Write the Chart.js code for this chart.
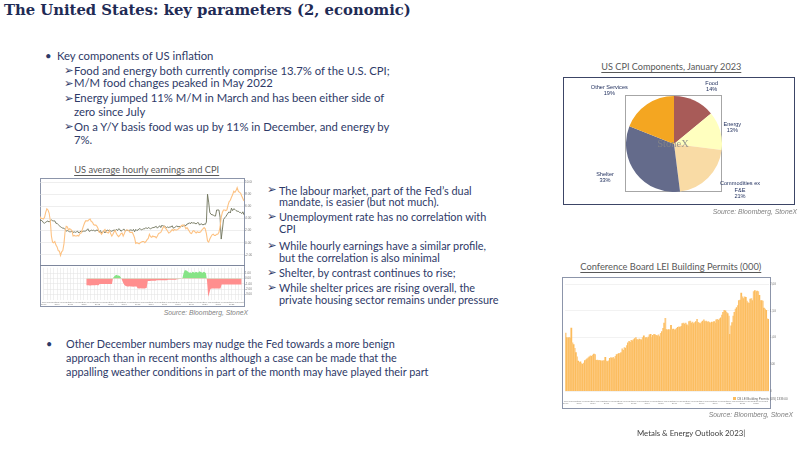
<!DOCTYPE html>
<html><head><meta charset="utf-8">
<script src="https://cdn.jsdelivr.net/npm/chart.js@4.4.1/dist/chart.umd.min.js"></script>
<style>
html,body{margin:0;padding:0;background:#fff;}
#slide{position:relative;width:800px;height:450px;overflow:hidden;font-family:Lato,"Liberation Sans",sans-serif;color:#2e3a68;}
.t{position:absolute;white-space:nowrap;line-height:14px;}
.b1{font-size:11.3px;}
.b2{font-size:10.9px;line-height:11px;}
.b3{font-size:10.85px;}
.arr{position:absolute;font-family:"DejaVu Sans",sans-serif;font-size:11.5px;line-height:14px;}
.ct{position:absolute;white-space:nowrap;color:#595959;text-decoration:underline;text-decoration-thickness:0.6px;text-underline-offset:1.5px;transform:translateX(-50%);line-height:12px;}
.src{position:absolute;white-space:nowrap;font-family:"Liberation Sans",Arial,sans-serif;font-style:italic;font-size:6.8px;color:#7f7f7f;line-height:10px;}
.box{position:absolute;box-sizing:border-box;}
canvas{position:absolute;}
.pl{position:absolute;font-family:"Liberation Sans",Arial,sans-serif;font-size:5.6px;line-height:6.7px;color:#22315f;text-align:center;white-space:pre-line;transform:translate(-50%,-50%);}
</style></head>
<body>
<div id="slide">
  <div class="t" style="left:4px;top:2px;font-family:'DejaVu Serif',serif;font-weight:bold;font-size:14.8px;line-height:16px;color:#1f2b55;">The United States: key parameters (2, economic)</div>

  <!-- block 1 -->
  <div class="t b1" style="left:45px;top:49px;">•</div>
  <div class="t b1" style="left:57px;top:49px;">Key components of US inflation</div>
  <div class="arr" style="left:64px;top:63px;">➢</div>
  <div class="t b1" style="left:74px;top:63.7px;">Food and energy both currently comprise 13.7% of the U.S. CPI;</div>
  <div class="arr" style="left:64px;top:75.6px;">➢</div>
  <div class="t b1" style="left:74px;top:76.3px;">M/M food changes peaked  in May 2022</div>
  <div class="arr" style="left:64px;top:90.6px;">➢</div>
  <div class="t b1" style="left:74px;top:91.3px;">Energy jumped 11% M/M in March and has been either side of</div>
  <div class="t b1" style="left:74px;top:104.7px;">zero since July</div>
  <div class="arr" style="left:64px;top:119px;">➢</div>
  <div class="t b1" style="left:74px;top:119.7px;">On a Y/Y basis food was up by  11% in December, and energy by</div>
  <div class="t b1" style="left:74px;top:133px;">7%.</div>

  <!-- block 2 -->
  <div class="arr" style="left:267px;top:182.3px;">➢</div>
  <div class="t b2" style="left:279px;top:184.5px;">The labour market,  part of the Fed’s dual</div>
  <div class="t b2" style="left:279px;top:196.2px;">mandate, is easier (but not much).</div>
  <div class="arr" style="left:267px;top:209.1px;">➢</div>
  <div class="t b2" style="left:279px;top:211.3px;">Unemployment  rate has no correlation with</div>
  <div class="t b2" style="left:279px;top:223.4px;">CPI</div>
  <div class="arr" style="left:267px;top:238px;">➢</div>
  <div class="t b2" style="left:279px;top:240.2px;">While hourly earnings  have a similar profile,</div>
  <div class="t b2" style="left:279px;top:251.8px;">but the correlation is also minimal</div>
  <div class="arr" style="left:267px;top:265px;">➢</div>
  <div class="t b2" style="left:279px;top:267.2px;">Shelter, by contrast continues to rise;</div>
  <div class="arr" style="left:267px;top:280px;">➢</div>
  <div class="t b2" style="left:279px;top:282.2px;">While shelter prices are rising overall, the</div>
  <div class="t b2" style="left:279px;top:293.8px;">private housing sector remains under pressure</div>

  <!-- block 3 -->
  <div class="t b3" style="left:46px;top:337.3px;">•</div>
  <div class="t b3" style="left:66px;top:337.3px;">Other December numbers may nudge the Fed towards a more benign</div>
  <div class="t b3" style="left:66px;top:351.3px;">approach than in recent months although a case can be made that the</div>
  <div class="t b3" style="left:66px;top:364.7px;">appalling weather conditions in part of the month may have played their part</div>

  <!-- chart titles -->
  <div class="ct" style="left:146.7px;top:164px;font-size:9.3px;">US average hourly earnings and CPI</div>
  <div class="ct" style="left:671.3px;top:61.3px;font-size:9.15px;">US CPI Components, January 2023</div>
  <div class="ct" style="left:670.8px;top:261.3px;font-size:9.3px;">Conference Board LEI Building Permits (000)</div>

  <!-- line chart -->
  <div class="box" style="left:40px;top:178px;width:205px;height:129px;border:1px solid #8c95aa;"></div>
  <canvas id="cLine" width="212" height="87" style="left:40px;top:178px;width:212px;height:87px;"></canvas>
  <div class="box" style="left:40px;top:264.5px;width:205px;height:1px;background:#7d869c;"></div>
  <canvas id="cSpread" width="212" height="42" style="left:40px;top:265px;width:212px;height:42px;"></canvas>
  <div class="src" style="right:552px;top:308px;">Source:  Bloomberg,  StoneX</div>

  <!-- pie -->
  <div class="box" style="left:563px;top:77px;width:232px;height:128px;border:1px solid #3c4566;"></div>
  <div class="box" style="left:625px;top:95px;width:97px;height:97px;border:1px solid #a6a6a6;"></div>
  <canvas id="cPie" width="96" height="96" style="left:625.5px;top:95.5px;width:96px;height:96px;"></canvas>
  <div style="position:absolute;left:673px;top:143px;transform:translate(-50%,-50%);font-family:'Liberation Serif',serif;font-size:10.5px;color:rgba(135,135,135,0.85);">StoneX</div>
  <div id="pieLabels"></div>
  <div class="src" style="right:3px;top:207px;">Source:  Bloomberg,  StoneX</div>

  <!-- permits -->
  <div class="box" style="left:561.5px;top:276.5px;width:209px;height:132px;border:1px solid #8c95aa;"></div>
  <canvas id="cPermits" width="214" height="131" style="left:562px;top:277px;width:214px;height:131px;"></canvas>
  <div style="position:absolute;left:733px;top:397px;font-family:'Liberation Sans',sans-serif;font-size:3px;color:#666;white-space:nowrap;"><span style="display:inline-block;width:3px;height:3px;background:#fbbd5e;margin-right:1px;"></span>CB LEI Building Permits (US)  1339.00</div>
  <div class="src" style="right:7px;top:410px;">Source:  Bloomberg,  StoneX</div>

  <div class="t" style="left:637px;top:426px;font-size:7.8px;color:#404040;">Metals &amp; Energy Outlook 2023|</div>
</div>

<script>
// ---------- data ----------
const monthNames = ['Jan','Feb','Mar','Apr','May','Jun','Jul','Aug','Sep','Oct','Nov','Dec'];
const years = [2008,2009,2010,2011,2012,2013,2014,2015,2016,2017,2018,2019,2020,2021,2022];

// US CPI YoY % (orange line)
const cpiYoY = [
 4.3,4.0,4.0,3.9,4.2,5.0,5.6,5.4,4.9,3.7,1.1,0.1,
 0.0,0.2,-0.4,-0.7,-1.3,-1.4,-2.1,-1.5,-1.3,-0.2,1.8,2.7,
 2.6,2.1,2.3,2.2,2.0,1.1,1.2,1.1,1.1,1.2,1.1,1.5,
 1.6,2.1,2.7,3.2,3.6,3.6,3.6,3.8,3.9,3.5,3.4,3.0,
 2.9,2.9,2.7,2.3,1.7,1.7,1.4,1.7,2.0,2.2,1.8,1.7,
 1.6,2.0,1.5,1.1,1.4,1.8,2.0,1.5,1.2,1.0,1.2,1.5,
 1.6,1.1,1.5,2.0,2.1,2.1,2.0,1.7,1.7,1.7,1.3,0.8,
 -0.1,0.0,-0.1,-0.2,0.0,0.1,0.2,0.2,0.0,0.2,0.5,0.7,
 1.4,1.0,0.9,1.1,1.0,1.0,0.8,1.1,1.5,1.6,1.7,2.1,
 2.5,2.7,2.4,2.2,1.9,1.6,1.7,1.9,2.2,2.0,2.2,2.1,
 2.1,2.2,2.4,2.5,2.8,2.9,2.9,2.7,2.3,2.5,2.2,1.9,
 1.6,1.5,1.9,2.0,1.8,1.6,1.8,1.7,1.7,1.8,2.1,2.3,
 2.5,2.3,1.5,0.3,0.1,0.6,1.0,1.3,1.4,1.2,1.2,1.4,
 1.4,1.7,2.6,4.2,5.0,5.4,5.4,5.3,5.4,6.2,6.8,7.0,
 7.5,7.9,8.5,8.3,8.6,9.1,8.5,8.3,8.2,7.7,7.3,6.9
];
// US average hourly earnings YoY % (dark line)
const earnYoY = [
 3.7,3.7,3.6,3.3,3.2,3.4,3.5,3.6,3.4,3.6,3.8,3.6,
 3.6,3.6,3.2,3.2,3.0,2.8,2.6,2.5,2.4,2.4,2.2,1.9,
 2.0,1.9,1.8,1.8,1.9,1.7,1.8,1.7,1.8,1.9,1.6,1.8,
 1.9,1.8,1.9,1.9,1.9,2.1,2.3,1.9,1.9,2.1,2.0,2.1,
 1.9,2.0,2.1,2.0,1.8,2.0,1.6,1.8,1.9,1.6,1.9,2.1,
 2.0,2.1,1.9,1.9,2.0,2.1,2.0,2.2,2.0,2.3,2.2,1.9,
 2.0,2.2,2.2,1.9,2.1,2.0,2.0,2.1,2.1,2.0,2.2,1.8,
 2.2,2.0,2.1,2.3,2.3,2.1,2.2,2.3,2.3,2.5,2.3,2.5,
 2.4,2.3,2.4,2.5,2.5,2.6,2.7,2.4,2.6,2.8,2.5,2.9,
 2.7,2.8,2.6,2.5,2.6,2.5,2.6,2.6,2.8,2.4,2.5,2.6,
 2.8,2.6,2.7,2.6,2.8,2.7,2.8,2.9,2.8,3.1,3.1,3.3,
 3.1,3.4,3.2,3.3,3.2,3.1,3.3,3.3,2.9,3.1,3.1,2.9,
 3.1,3.0,3.4,8.0,6.7,5.0,4.7,4.6,4.6,4.4,4.4,5.4,
 5.4,5.4,4.2,0.6,2.1,3.8,4.1,4.3,4.6,4.9,5.1,4.9,
 5.7,5.3,5.6,5.5,5.3,5.2,5.2,5.0,5.0,4.8,5.1,4.6
];
// lower panel study (green above / red below zero)
const spreadStudy = [
 null,null,null,null,null,null,null,null,null,null,null,null,
 null,null,null,null,null,null,null,null,null,null,null,null,
 null,null,null,null,null,null,null,null,null,null,null,null,
 null,null,
 -1.3,-1.3,-1.3,-1.35,-1.35,-1.3,-1.3,-1.3,-1.3,-1.25,-1.3,-1.3,
 -1.05,-1.05,-1.05,-1.05,-1.05,-1.05,-1.05,-1.05,-1.05,-1.05,-1.05,-1.05,
 0.1,0.4,0.6,0.7,0.6,0.6,0.5,0.2,
 -0.3,-0.8,-1.2,
 -1.4,-1.45,-1.5,-1.5,-1.45,-1.5,-1.5,-1.55,-1.5,-1.5,-1.5,
 -1.85,-1.9,-1.9,-1.85,-1.9,-1.9,-1.9,-1.85,-1.8,
 -0.45,-0.45,-0.45,-0.4,-0.4,-0.4,-0.4,-0.4,
 -0.35,-0.35,-0.35,-0.35,-0.35,-0.35,-0.35,-0.35,-0.35,-0.35,
 -0.25,-0.25,-0.25,-0.25,-0.25,-0.25,-0.25,-0.25,
 -0.15,-0.15,-0.1,-0.1,-0.05,0.1,
 1.0,1.6,1.6,1.5,1.3,1.1,1.2,1.0,1.3,1.2,1.1,1.3,1.2,1.1,1.4,1.3,1.2,1.1,1.3,1.2,1.0,
 -0.5,-3.5,-2.8,-2.0,
 -1.9,-1.9,-1.9,-1.9,-1.9,-1.9,-1.9,-1.9,-1.9,
 -1.15,-1.15,-1.15,-1.15,-1.15,-1.15,-1.15,-1.15,-1.15,-1.15,-1.15,-1.15,-1.15,-1.15,-1.15,-1.15,-1.15,-1.15,-1.15,
 null,null
];
const lineTicks = [-2,0,2,4,6,8,10];
const lineTickLabels = ['-2.00','0.00','2.00','4.00','6.00','8.00','10.00'];
const spreadTicks = [1,0,-1,-2,-3];

// Pie
const pieCategories = ['Food','Energy','Commodities ex F&E','Shelter','Other Services'];
const pieValues = [14,13,21,33,19];

// Building permits (000), monthly Jan 2008 - Dec 2022
const permits = [
 1085,1000,985,1000,990,1177,900,870,800,720,640,560,
 530,545,515,500,520,570,585,600,620,640,660,650,
 670,690,680,575,580,570,575,565,560,565,570,630,
 560,550,565,610,625,610,630,600,650,680,690,700,
 700,720,790,760,810,800,850,900,930,910,950,940,
 960,980,1000,960,950,970,960,955,1000,1030,990,1000,
 980,1010,1050,1060,1000,1040,1060,1050,1040,1030,1050,1020,
 1080,1110,1170,1270,1360,1150,1140,1150,1140,1230,1150,1160,
 1140,1150,1170,1190,1200,1190,1210,1260,1270,1250,1270,1240,
 1220,1300,1310,1270,1290,1260,1280,1300,1340,1280,1270,1260,
 1290,1310,1330,1300,1310,1290,1300,1280,1270,1290,1280,1300,
 1270,1330,1340,1320,1350,1370,1420,1470,1510,1500,1470,1450,
 1400,1060,1220,1280,1400,1470,1530,1560,1600,1690,1700,1830,
 1760,1730,1760,1750,1680,1650,1640,1720,1730,1690,1860,1880,
 1850,1870,1860,1790,1690,1690,1680,1550,1530,1510,1350,1340
];
const permitTicks = [0,500,1000,1500,2000];

// ---------- build ----------
const months = [];
years.forEach(y => monthNames.forEach(m => months.push(m + ' ' + y)));

const tinyLabel = (i) => {
  if (i % 3 !== 0) return '';
  const m = monthNames[i % 12];
  return i % 12 === 0 ? [m, String(years[Math.floor(i/12)])] : m;
};

const common = {responsive:false, animation:false, events:[], layout:{padding:0},
  plugins:{legend:{display:false}, tooltip:{enabled:false}}};

new Chart(document.getElementById('cLine'), {
  type:'line',
  data:{labels:months, datasets:[
    {label:'US CPI YoY', data:cpiYoY, borderColor:'#fdc283', borderWidth:1.1, pointRadius:0, tension:0},
    {label:'US Avg Hourly Earnings YoY', data:earnYoY, borderColor:'#6e735a', borderWidth:0.9, pointRadius:0, tension:0}
  ]},
  options:Object.assign({}, common, {
    scales:{
      x:{display:false},
      y:{position:'right', min:-3.2, max:10.2,
         afterBuildTicks:(s)=>{ s.ticks = lineTicks.map(v=>({value:v})); },
         afterFit:(s)=>{ s.width = 8; },
         grid:{color:'#e3e3e3', lineWidth:0.6, drawTicks:false},
         border:{display:false},
         ticks:{font:{size:3.2}, color:'#777', padding:1,
           callback:(v)=> lineTickLabels[lineTicks.indexOf(v)]}}
    }})
});

new Chart(document.getElementById('cSpread'), {
  type:'line',
  data:{labels:months, datasets:[
    {label:'Study', data:spreadStudy, borderWidth:0, borderColor:'rgba(0,0,0,0)', pointRadius:0,
     fill:{target:'origin', above:'#86e486', below:'#ff8e8e'}}
  ]},
  options:Object.assign({}, common, {
    scales:{
      x:{afterFit:(s)=>{ s.height = 7; },
         grid:{color:(c)=> (c.index % 3 === 0 ? '#e0e0e0' : 'rgba(0,0,0,0)'), lineWidth:0.5, drawTicks:false},
         border:{display:false},
         ticks:{autoSkip:false, maxRotation:0, minRotation:0, font:{size:2.4, lineHeight:1}, color:'#888', padding:1,
           callback:(v,i)=> tinyLabel(i)}},
      y:{position:'right', min:-4.1, max:2.05,
         afterBuildTicks:(s)=>{ s.ticks = spreadTicks.map(v=>({value:v})); },
         afterFit:(s)=>{ s.width = 8; },
         grid:{color:'#e0e0e0', lineWidth:0.5, drawTicks:false},
         border:{display:false},
         ticks:{font:{size:3}, color:'#777', padding:1, callback:(v)=> v.toFixed(2)}}
    }})
});

new Chart(document.getElementById('cPie'), {
  type:'pie',
  data:{labels:pieCategories, datasets:[{data:pieValues,
    backgroundColor:['#a85b58','#ffffbf','#f9dba5','#646b8b','#f4a621'], borderWidth:0}]},
  options:Object.assign({}, common)
});

// pie labels (text from the data arrays)
const pieLabelPos = [[711.7,86.7],[732.3,127.5],[740,190],[605,177.5],[609.3,90.7]];
const pieWrap = {'Commodities ex F&E':'Commodities ex\nF&E'};
const holder = document.getElementById('pieLabels');
pieCategories.forEach((c,i)=>{
  const d = document.createElement('div');
  d.className = 'pl';
  d.style.left = pieLabelPos[i][0] + 'px';
  d.style.top = pieLabelPos[i][1] + 'px';
  d.textContent = (pieWrap[c] || c) + '\n' + pieValues[i] + '%';
  holder.appendChild(d);
});

new Chart(document.getElementById('cPermits'), {
  type:'bar',
  data:{labels:months, datasets:[{label:'CB LEI Building Permits', data:permits,
    backgroundColor:(c)=> (c.dataIndex % 2 ? '#fcbc5c' : '#fdca80'),
    borderWidth:0, barPercentage:1, categoryPercentage:1}]},
  options:Object.assign({}, common, {
    scales:{
      x:{afterFit:(s)=>{ s.height = 17; },
         grid:{display:false},
         border:{display:false},
         ticks:{autoSkip:false, maxRotation:0, minRotation:0, font:{size:2.4, lineHeight:1}, color:'#888', padding:1,
           callback:(v,i)=> tinyLabel(i)}},
      y:{position:'right', min:0, max:2080,
         afterBuildTicks:(s)=>{ s.ticks = permitTicks.map(v=>({value:v})); },
         afterFit:(s)=>{ s.width = 7; },
         grid:{color:'#e9e9e9', lineWidth:0.6, drawTicks:false},
         border:{display:false},
         ticks:{font:{size:3}, color:'#777', padding:1}}
    }})
});
</script>
</body></html>
